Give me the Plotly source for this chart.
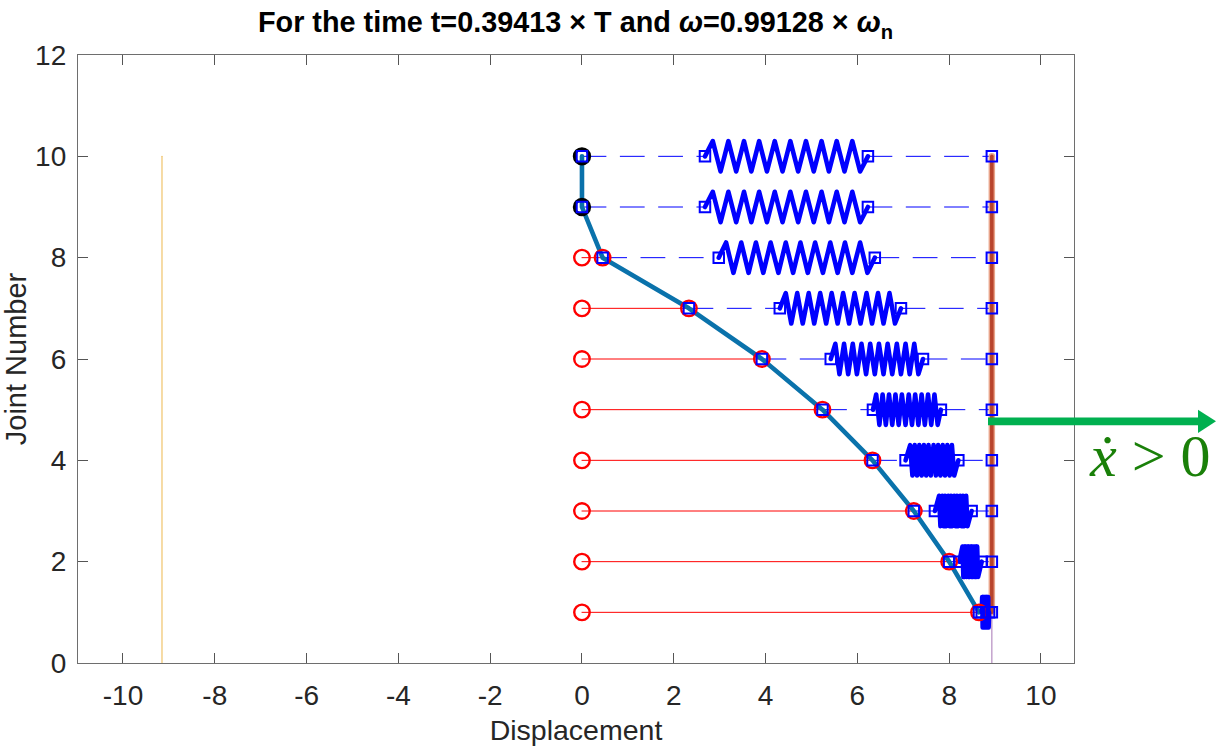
import plotly.graph_objects as go

joints = [1, 2, 3, 4, 5, 6, 7, 8, 9, 10]
displacement = [8.65, 8.00, 7.23, 6.33, 5.24, 3.92, 2.33, 0.45, 0.0, 0.0]
wall_x = 8.93
ghost_x = -9.15
spring_start = [8.71, 8.22, 7.69, 7.05, 6.34, 5.42, 4.31, 2.98, 2.68, 2.68]
spring_end = [8.87, 8.71, 8.49, 8.20, 7.82, 7.43, 6.95, 6.38, 6.23, 6.23]

coil_1 = [8.72,8.73,8.73,8.74,8.75,8.76,8.76,8.77,8.78,8.79,8.79,8.80,8.81,8.82,8.82,8.83,8.84,8.85,8.85,8.86]
coil_2 = [8.29,8.31,8.33,8.34,8.36,8.38,8.40,8.42,8.43,8.45,8.47,8.49,8.50,8.52,8.54,8.56,8.58,8.59,8.61,8.63]
coil_3 = [7.78,7.81,7.85,7.88,7.91,7.94,7.98,8.01,8.04,8.07,8.11,8.14,8.17,8.20,8.24,8.27,8.30,8.33,8.37,8.40]
coil_4 = [7.15,7.20,7.25,7.30,7.35,7.40,7.45,7.50,7.55,7.60,7.66,7.71,7.76,7.81,7.86,7.91,7.96,8.01,8.06,8.11]
coil_5 = [6.41,6.48,6.55,6.62,6.69,6.76,6.83,6.90,6.97,7.05,7.12,7.19,7.26,7.33,7.40,7.47,7.54,7.61,7.68,7.75]
coil_6 = [5.52,5.61,5.71,5.80,5.90,5.99,6.09,6.19,6.28,6.38,6.47,6.57,6.66,6.76,6.86,6.95,7.05,7.14,7.24,7.33]
coil_7 = [4.44,4.56,4.69,4.81,4.94,5.06,5.19,5.32,5.44,5.57,5.69,5.82,5.94,6.07,6.20,6.32,6.45,6.57,6.70,6.82]
coil_8 = [3.14,3.30,3.47,3.63,3.79,3.95,4.11,4.28,4.44,4.60,4.76,4.92,5.08,5.25,5.41,5.57,5.73,5.89,6.06,6.22]
coil_9 = [2.85,3.02,3.19,3.36,3.53,3.69,3.86,4.03,4.20,4.37,4.54,4.71,4.88,5.05,5.22,5.38,5.55,5.72,5.89,6.06]
coil_10 = [2.85,3.02,3.19,3.36,3.53,3.69,3.86,4.03,4.20,4.37,4.54,4.71,4.88,5.05,5.22,5.38,5.55,5.72,5.89,6.06]
coils = [coil_1, coil_2, coil_3, coil_4, coil_5, coil_6, coil_7, coil_8, coil_9, coil_10]
coil_offset = [0.3, -0.3] * 10

x_ticks = [-10, -8, -6, -4, -2, 0, 2, 4, 6, 8, 10]
y_ticks = [0, 2, 4, 6, 8, 10, 12]

RED = "#ff0000"
BLUE = "#0000ff"
INK = "#262626"

fig = go.Figure()


def line(x, y, color, width, dash="solid"):
    fig.add_trace(go.Scatter(x=x, y=y, mode="lines", hoverinfo="skip",
                             line=dict(color=color, width=width, dash=dash, simplify=False)))


line([ghost_x, ghost_x], [0, 10], "#f0c36a", 1.2)
line([wall_x, wall_x], [0, 10], "#b48cc0", 1.2)
for j, d, s, e in zip(joints, displacement, spring_start, spring_end):
    if d > 0:
        line([0, d], [j, j], RED, 1)
    line([d, s], [j, j], BLUE, 1, dash="24px,14.3px")
    line([e, wall_x], [j, j], BLUE, 1, dash="24px,14.3px")
line([wall_x, wall_x], joints[0:1] + joints[-1:], "#e8a48a", 6.5)
line([wall_x, wall_x], joints[0:1] + joints[-1:], "#b8442c", 3.6)
line(displacement, joints, "#0a72ab", 4.6)
for j, s, e, c in zip(joints, spring_start, spring_end, coils):
    line([s] + c + [e], [j] + [j + o for o in coil_offset] + [j], BLUE, 4.6)

fig.add_trace(go.Scatter(x=[0] * 8 + displacement[:8], y=joints[:8] * 2, mode="markers", hoverinfo="skip",
                         marker=dict(symbol="circle-open", size=15.5, color=RED, line=dict(width=2.4, color=RED))))
fig.add_trace(go.Scatter(x=displacement[8:], y=joints[8:], mode="markers", hoverinfo="skip",
                         marker=dict(symbol="circle-open", size=15, color="#000000", line=dict(width=3.4, color="#000000"))))
sq_x = displacement + spring_start + spring_end + [wall_x] * 10
sq_y = joints * 4
fig.add_trace(go.Scatter(x=sq_x, y=sq_y, mode="markers", hoverinfo="skip",
                         marker=dict(symbol="square-open", size=10.5, color=BLUE, line=dict(width=2, color=BLUE))))

axis = dict(showline=True, mirror="ticks", linecolor="#6e6e6e", linewidth=1.3, ticks="inside",
            ticklen=10, tickwidth=1, tickcolor="#555555", showgrid=False, zeroline=False,
            tickfont=dict(family="Liberation Sans", size=28, color=INK))
fig.update_layout(
    width=1216, height=746, showlegend=False, paper_bgcolor="white", plot_bgcolor="white",
    margin=dict(l=78, r=142, t=55, b=83, autoexpand=False),
    xaxis=dict(axis, range=[-10.98, 10.72], tickvals=x_ticks, ticktext=[str(v) for v in x_ticks], ticklabelstandoff=7,
               title=dict(text="Displacement", standoff=10, font=dict(family="Liberation Sans", size=28.5, color=INK))),
    yaxis=dict(axis, range=[0, 12], tickvals=y_ticks, ticklabelstandoff=5,
               title=dict(text="Joint Number", standoff=10, font=dict(family="Liberation Sans", size=29, color=INK))),
    title=dict(text="<b>For the time t=0.39413 × T and <i>ω</i>=0.99128 × <i>ω</i><sub>n</sub></b>",
               x=575.5 / 1216, xanchor="center", y=0.97, yanchor="middle",
               font=dict(family="Liberation Sans", size=28.8, color="#000000")),
    shapes=[
        dict(type="line", xref="paper", yref="y", x0=(988 - 78) / 996, x1=(1199 - 78) / 996, y0=4.77, y1=4.77,
             line=dict(color="#00b050", width=7.7), layer="above"),
        dict(type="path", xref="paper", yref="y", fillcolor="#00b050", line=dict(width=0), layer="above",
             path=f"M {(1198 - 78) / 996} 5.0 L {(1216 - 78) / 996} 4.77 L {(1198 - 78) / 996} 4.54 Z"),
    ],
    annotations=[dict(text="<i>ẋ</i>\u00a0&gt;\u00a00", xref="paper", yref="paper", x=(1149 - 78) / 996, y=1 - (456 - 55) / 608.5,
                      xanchor="center", yanchor="middle", showarrow=False,
                      font=dict(family="Liberation Serif", size=60, color="#1a8009"))],
)
post = ("document.body.style.margin='0';document.body.style.overflow='hidden';"
        "var s=document.createElement('style');s.textContent='.scatterlayer path.js-line{stroke-linejoin:round;stroke-linecap:round}';"
        "document.head.appendChild(s);")
fig.write_html("out.html", post_script=post, config=dict(displayModeBar=False))
